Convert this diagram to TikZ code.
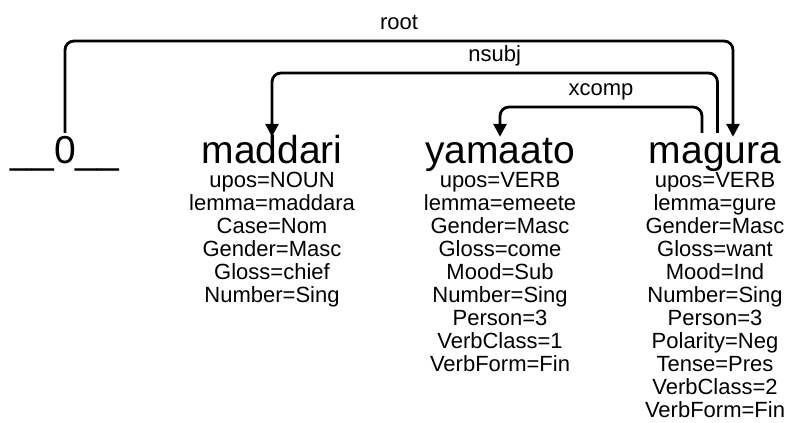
\documentclass[tikz,border=0pt]{standalone}
\usepackage{fontspec}
\setmainfont{Liberation Sans}
\usetikzlibrary{arrows.meta}
\usetikzlibrary{positioning}

\tikzset{
	word/.style={inner sep=0pt, anchor=base, text height=26pt, text depth=0pt, font=\fontsize{39}{39}\selectfont},
	feats/.style={inner sep=0pt, anchor=north, align=center, font=\fontsize{22}{23}\selectfont},
	deprel/.style={line width=2.8pt, rounded corners=9pt},
	lbl/.style={inner sep=0pt, text depth=0pt, font=\fontsize{22}{22}\selectfont}
}

\begin{document}
\begin{tikzpicture}[x=1pt, y=-1pt]
	\useasboundingbox (0,0) rectangle (793,423);
	% heights of the arcs
	\coordinate (hroot) at (0,41);
	\coordinate (hnsubj) at (0,73);
	\coordinate (hxcomp) at (0,107);

	\node[word] (w0) at (65,163) {\_\_0\_\_};
	\node[word] (w1) at (272,163) {maddari};
	\node[word] (w2) at (500,163) {yamaato};
	\node[word] (w3) at (715,163) {magura};

	\node[feats] (f1) at (272,172) {upos=NOUN\\lemma=maddara\\Case=Nom\\Gender=Masc\\Gloss=chief\\Number=Sing};
	\node[feats] (f2) at (500,172) {upos=VERB\\lemma=emeete\\Gender=Masc\\Gloss=come\\Mood=Sub\\Number=Sing\\Person=3\\VerbClass=1\\VerbForm=Fin};
	\node[feats] (f3) at (715,172) {upos=VERB\\lemma=gure\\Gender=Masc\\Gloss=want\\Mood=Ind\\Number=Sing\\Person=3\\Polarity=Neg\\Tense=Pres\\VerbClass=2\\VerbForm=Fin};

	\draw[deprel, -{Triangle[length=13pt, width=13pt]}] ([yshift=4pt]w0.north) |- node[pos=.75, above=10pt, lbl] {root} ([xshift=18pt]w3.north |- hroot) -- ([xshift=18pt]w3.north);
	\draw[deprel, -{Triangle[length=13pt, width=13pt]}] ([xshift=2.5pt, yshift=4pt]w3.north) |- node[pos=.75, above=10pt, lbl] {nsubj} (w1.north |- hnsubj) -- (w1.north);
	\draw[deprel, -{Triangle[length=13pt, width=13pt]}] ([xshift=-13pt, yshift=4pt]w3.north) |- node[pos=.75, above=10pt, lbl] {xcomp} (w2.north |- hxcomp) -- (w2.north);
\end{tikzpicture}
\end{document}
